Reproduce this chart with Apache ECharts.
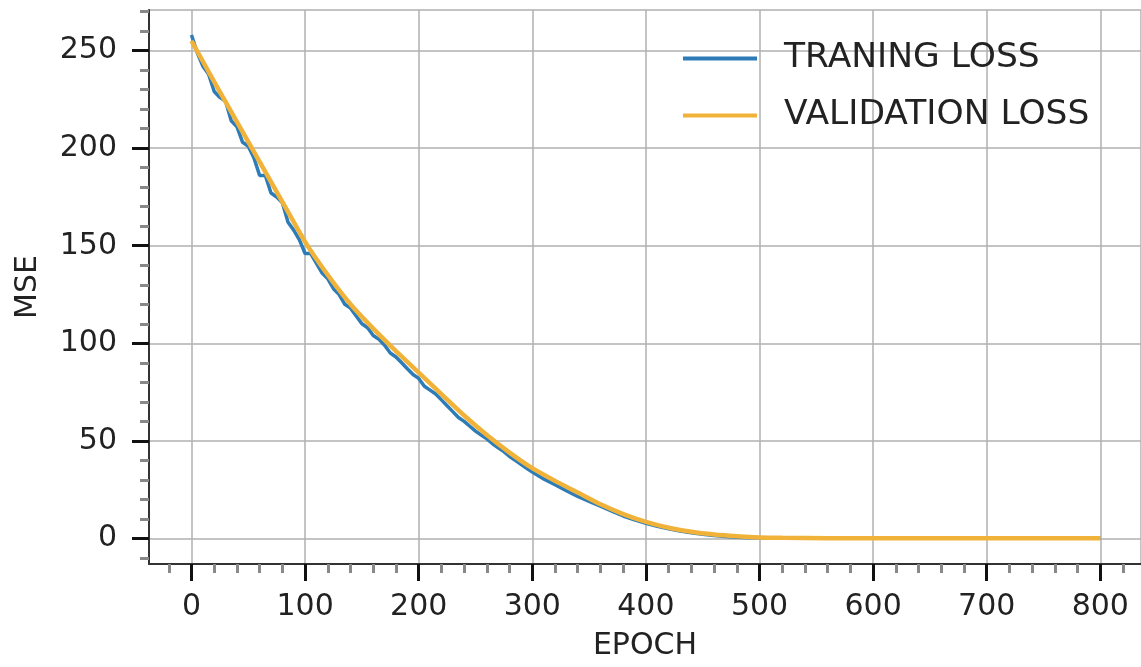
<!DOCTYPE html>
<html>
<head>
<meta charset="utf-8">
<title>MSE loss</title>
<script src="https://cdn.jsdelivr.net/npm/echarts@6/dist/echarts.min.js"></script>
<style>
  html, body { margin: 0; padding: 0; background: #fff; }
  #chart { width: 1141px; height: 667px; }
</style>
</head>
<body>
<div id="chart"></div>
<script>
// epochs and loss values
const trainEpochs = [
  0, 5, 10, 15, 20, 25, 30, 35, 40, 45, 50, 55, 60, 65, 70, 75, 80, 85, 90, 95,
  100, 105, 110, 115, 120, 125, 130, 135, 140, 145, 150, 155, 160, 165, 170, 175, 180, 185, 190, 195,
  200, 205, 210, 215, 220, 225, 230, 235, 240, 245, 250, 255, 260, 265, 270, 275, 280, 285, 290, 295,
  300, 310, 320, 330, 340, 350, 360, 370, 380, 390, 400, 410, 420, 430, 440, 450, 460, 470, 480, 490,
  500, 550, 600, 650, 700, 750, 800
];
const trainLoss = [
  258, 249, 242, 238, 229, 226, 224, 214, 211, 203, 201, 195, 186, 186, 177, 175, 172, 162, 158, 153,
  146, 146, 141, 136, 133, 128, 125, 120, 118, 114, 110, 108, 104, 102, 99, 95, 93, 90, 87, 84,
  82, 78, 76, 74, 71, 68, 65, 62, 60, 57.5, 55, 53, 51, 48.5, 46.5, 44.5, 42, 40, 38, 36,
  34, 30.5, 27.5, 24.5, 21.5, 19, 16.5, 14, 11.5, 9.5, 7.8, 6.2, 4.9, 3.8, 2.9, 2.1, 1.5, 1, 0.6, 0.4,
  0.3, 0.1, 0.05, 0.05, 0.05, 0.05, 0.05
];
const valEpochs = [
  0, 20, 40, 60, 80, 100, 120, 140, 160, 180, 200, 220, 240, 260, 280, 300, 320, 340, 360, 380,
  400, 420, 440, 460, 480, 500, 520, 560, 600, 700, 800
];
const valLoss = [
  255, 234, 213.5, 193, 172.5, 152, 135, 120, 107.5, 96, 85, 74, 63, 53, 44, 36, 29.5, 23.5, 17.5, 12.5,
  8.5, 5.5, 3.4, 2, 1.1, 0.5, 0.3, 0.15, 0.1, 0.1, 0.1
];
const xMajor = [0, 100, 200, 300, 400, 500, 600, 700, 800];
const xMinor = [-20, 20, 40, 60, 80, 120, 140, 160, 180, 220, 240, 260, 280, 320, 340, 360, 380,
  420, 440, 460, 480, 520, 540, 560, 580, 620, 640, 660, 680, 720, 740, 760, 780, 820];
const yMajor = [0, 50, 100, 150, 200, 250];
const yMinor = [-10, 10, 20, 30, 40, 60, 70, 80, 90, 110, 120, 130, 140, 160, 170, 180, 190,
  210, 220, 230, 240, 260, 270];

const font = 'DejaVu Sans';
const textColor = '#222';
const gridColor = '#b0b0b0';

function pairs(xs, ys) {
  return xs.map(function (x, i) { return [x, ys[i]]; });
}

const chart = echarts.init(document.getElementById('chart'));

const xRange = { min: -37.4, max: 835.8 };
const yRange = { min: -13.1, max: 270.8 };

chart.setOption({
  animation: false,
  backgroundColor: '#fff',
  grid: {
    left: 149, top: 10, width: 992, height: 554,
    show: true, borderColor: gridColor, borderWidth: 1.5
  },
  legend: {
    orient: 'vertical',
    left: 683, top: 41, padding: 0,
    itemWidth: 74, itemHeight: 4, itemGap: 22,
    icon: 'rect',
    textStyle: { fontFamily: font, fontSize: 34.5, color: textColor, padding: [0, 0, 0, 22] },
    data: ['TRANING LOSS', 'VALIDATION LOSS']
  },
  xAxis: [
    {
      type: 'value', position: 'bottom', min: xRange.min, max: xRange.max,
      name: 'EPOCH', nameLocation: 'middle', nameGap: 67,
      nameTextStyle: { fontFamily: font, fontSize: 30, color: textColor },
      axisLine: { show: true, onZero: false, lineStyle: { color: '#333', width: 2 } },
      axisTick: { show: true, customValues: xMajor, length: 17, lineStyle: { color: '#111', width: 3 } },
      axisLabel: { customValues: xMajor, margin: 28, fontFamily: font, fontSize: 30, color: textColor },
      splitLine: { show: true, lineStyle: { color: gridColor, width: 1.5 } }
    },
    {
      type: 'value', position: 'bottom', min: xRange.min, max: xRange.max,
      axisLine: { show: false, onZero: false },
      axisTick: { show: true, customValues: xMinor, length: 9, lineStyle: { color: '#888', width: 3 } },
      axisLabel: { show: false },
      splitLine: { show: false }
    }
  ],
  yAxis: [
    {
      type: 'value', position: 'left', min: yRange.min, max: yRange.max,
      name: 'MSE', nameLocation: 'middle', nameGap: 106,
      nameTextStyle: { fontFamily: font, fontSize: 30, color: textColor },
      axisLine: { show: true, onZero: false, lineStyle: { color: '#333', width: 2 } },
      axisTick: { show: true, customValues: yMajor, length: 17, lineStyle: { color: '#111', width: 3 } },
      axisLabel: { customValues: yMajor, margin: 32, fontFamily: font, fontSize: 30, color: textColor },
      splitLine: { show: true, lineStyle: { color: gridColor, width: 1.5 } }
    },
    {
      type: 'value', position: 'left', min: yRange.min, max: yRange.max,
      axisLine: { show: false, onZero: false },
      axisTick: { show: true, customValues: yMinor, length: 9, lineStyle: { color: '#888', width: 3 } },
      axisLabel: { show: false },
      splitLine: { show: false }
    }
  ],
  series: [
    {
      name: 'TRANING LOSS', type: 'line', xAxisIndex: 0, yAxisIndex: 0,
      data: pairs(trainEpochs, trainLoss),
      showSymbol: false, symbol: 'none',
      color: '#2d7cb7',
      lineStyle: { width: 3.5, color: '#2d7cb7' }
    },
    {
      name: 'VALIDATION LOSS', type: 'line', xAxisIndex: 0, yAxisIndex: 0,
      data: pairs(valEpochs, valLoss),
      smooth: 0.2,
      showSymbol: false, symbol: 'none',
      color: '#f1b23a',
      lineStyle: { width: 4.5, color: '#f1b23a' }
    }
  ]
});
</script>
</body>
</html>
